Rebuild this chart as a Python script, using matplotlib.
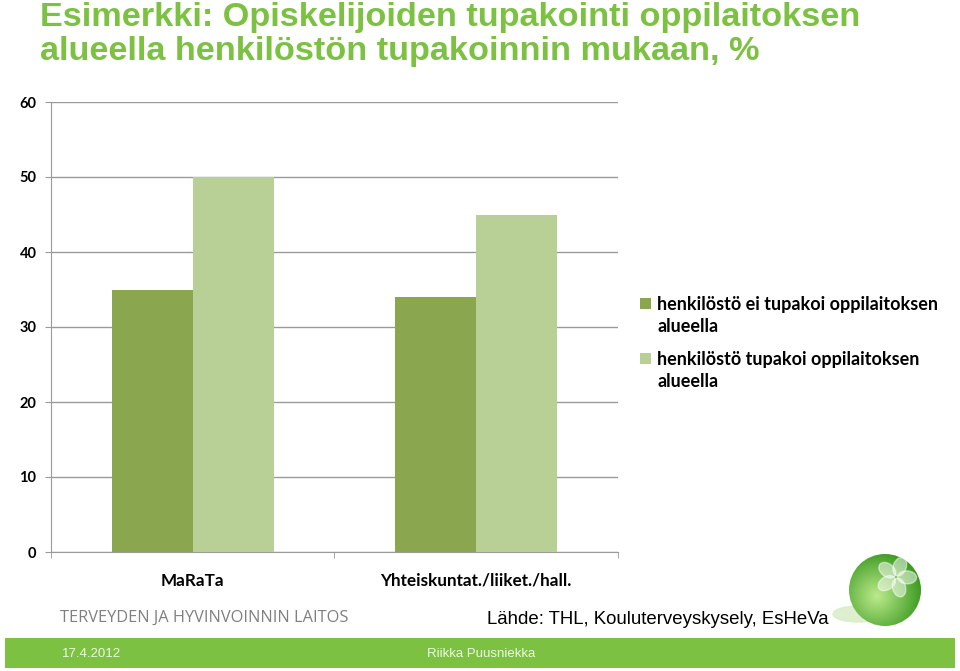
import numpy as np
import matplotlib
matplotlib.use("Agg")
import matplotlib.pyplot as plt
from matplotlib.patches import Circle, Ellipse, Rectangle

# data
categories = ["MaRaTa", "Yhteiskuntat./liiket./hall."]
series_names = ["henkilöstö ei tupakoi oppilaitoksen\nalueella",
                "henkilöstö tupakoi oppilaitoksen\nalueella"]
staff_no_smoking = [35, 34]
staff_smoking = [50, 45]
y_ticks = [0, 10, 20, 30, 40, 50, 60]

dark_green = "#8aa74f"
light_green = "#b8cf96"
thl_green = "#7cc142"
grid_grey = "#9a9a9a"

W, H = 960, 671


def fx(px):
    return px / W


def fy(py):
    return 1 - py / H


fig = plt.figure(figsize=(9.6, 6.71), dpi=100)
fig.patch.set_facecolor("white")

ax = fig.add_axes([fx(51), fy(552), 567 / W, 450 / H])
x = np.arange(len(categories))
w = 0.286
b1 = ax.bar(x - w / 2, staff_no_smoking, width=w, color=dark_green, zorder=3)
b2 = ax.bar(x + w / 2, staff_smoking, width=w, color=light_green, zorder=3)

ax.set_xlim(-0.5, len(categories) - 0.5)
ax.set_ylim(0, 60)
ax.set_yticks(y_ticks)
ax.set_yticklabels([str(t) for t in y_ticks], fontfamily="Lato", fontweight="bold",
                   fontsize=10.5)
ax.yaxis.grid(True, color=grid_grey, linewidth=1.0, zorder=0)
ax.set_axisbelow(True)
for s in ["top", "right"]:
    ax.spines[s].set_visible(False)
ax.spines["left"].set_color(grid_grey)
ax.spines["bottom"].set_color(grid_grey)
ax.tick_params(axis="y", length=4.5, color=grid_grey, pad=6)

ax.set_xticks(x)
ax.set_xticklabels(categories, fontfamily="Lato", fontweight="bold", fontsize=12.3)
ax.tick_params(axis="x", which="major", length=0, pad=15)
ax.set_xticks(np.arange(-0.5, len(categories), 1.0), minor=True)
ax.tick_params(axis="x", which="minor", length=4.5, color=grid_grey)

# legend drawn by hand: swatch sits next to the first line of a wrapped label
legend_font = {"family": "Lato", "weight": "bold", "size": 13}
for i, (name, col) in enumerate(zip(series_names, [dark_green, light_green])):
    top = 298 + i * 55
    fig.patches.append(Rectangle((fx(640), fy(top + 11)), 11 / W, 11 / H,
                                 transform=fig.transFigure, facecolor=col,
                                 edgecolor="none"))
    for j, line in enumerate(name.split("\n")):
        fig.text(fx(657), fy(top + 12 + j * 22.5), line, va="baseline", **legend_font)

# title
fig.text(fx(40), fy(26), "Esimerkki: Opiskelijoiden tupakointi oppilaitoksen",
         color=thl_green, fontsize=24.7, fontweight="bold", family="Liberation Sans",
         va="baseline")
fig.text(fx(40), fy(60), "alueella henkilöstön tupakoinnin mukaan, %",
         color=thl_green, fontsize=24.7, fontweight="bold", family="Liberation Sans",
         va="baseline")

# footer texts
fig.text(fx(60), fy(618), "TERVEYDEN JA HYVINVOINNIN LAITOS", color="#808080",
         fontsize=11.8, family="Open Sans", va="center")
fig.text(fx(487), fy(620), "Lähde: THL, Kouluterveyskysely, EsHeVa", color="black",
         fontsize=13.4, family="Liberation Sans", va="center")

fig.patches.append(Rectangle((fx(5), fy(668)), 950 / W, 30 / H, transform=fig.transFigure,
                             facecolor=thl_green, edgecolor="none"))
fig.text(fx(62), fy(654), "17.4.2012", color="#eef7e4", fontsize=9.5,
         family="Liberation Sans", va="center")
fig.text(fx(427), fy(654), "Riikka Puusniekka", color="#eef7e4", fontsize=9.5,
         family="Liberation Sans", va="center")

# logo ball (pixel coordinates, y downwards)
logo = fig.add_axes([fx(820), fy(636), 140 / W, 96 / H])
logo.set_xlim(820, 960)
logo.set_ylim(636, 540)
logo.axis("off")
logo.add_patch(Ellipse((858, 614), 50, 16, color="#d6ecc4", alpha=0.8, zorder=1))
cx, cy, r = 885, 590, 36
gx, gy = np.meshgrid(np.linspace(cx - r, cx + r, 200), np.linspace(cy - r, cy + r, 200))
d = np.clip(np.hypot(gx - (cx - 8), gy - (cy + 6)) / (r * 1.35), 0, 1)
light = np.array([0.74, 0.92, 0.55])
dark = np.array([0.20, 0.58, 0.10])
img = light[None, None, :] * (1 - d[..., None]) + dark[None, None, :] * d[..., None]
im = logo.imshow(img, extent=(cx - r, cx + r, cy + r, cy - r), zorder=2)
ball = Circle((cx, cy), r, transform=logo.transData)
im.set_clip_path(ball)
petals = []
for k in range(5):
    ang = np.deg2rad(90 + k * 72 - 20)
    px = 896 + 11 * np.cos(ang)
    py = 577 - 11 * np.sin(ang)
    p = Ellipse((px, py), 19, 13, angle=-np.rad2deg(ang), color="white",
                alpha=0.5, zorder=3)
    logo.add_patch(p)
    p.set_clip_path(ball)

fig.savefig("out.png", dpi=100)
